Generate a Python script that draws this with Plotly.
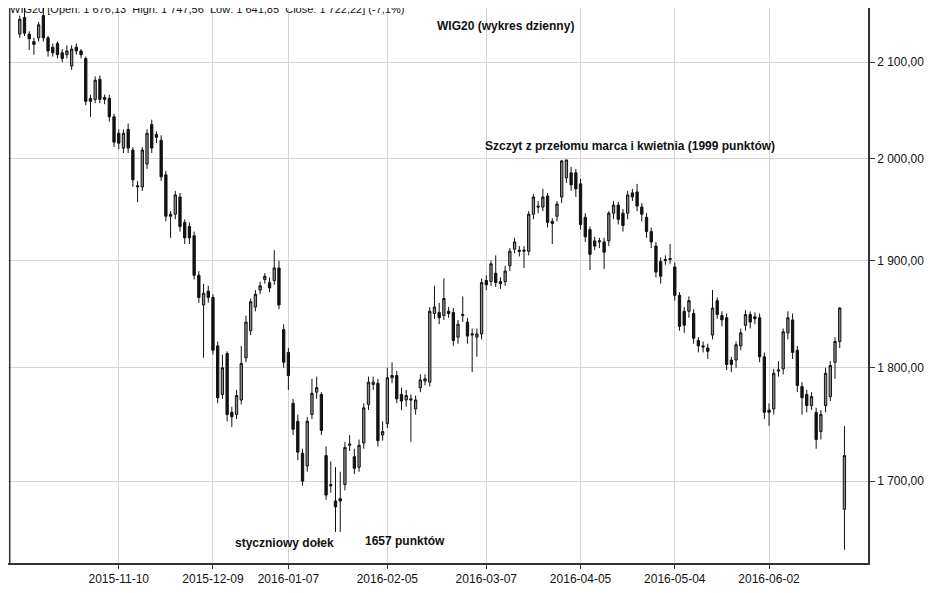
import pandas as pd
import plotly.graph_objects as go

# --- WIG20 daily candles, Oct 2015 - Jun 2016 ---
open_ = [2130, 2148, 2130, 2122, 2126, 2150, 2126, 2116, 2120, 2110, 2108, 2096, 2116, 2112, 2104, 2062, 2061, 2082, 2063, 2062,
         2043, 2026, 2011, 2030, 2009, 1972, 1972, 1995, 2035, 2025, 2019, 1984, 1945, 1945, 1962, 1937, 1933, 1924, 1886, 1858,
         1871, 1865, 1820, 1776, 1813, 1760, 1758, 1771, 1809, 1834, 1856, 1872, 1882, 1879, 1881, 1893, 1835, 1814, 1768, 1752,
         1724, 1713, 1758, 1778, 1776, 1722, 1697, 1683, 1685, 1697, 1731, 1721, 1712, 1733, 1767, 1785, 1786, 1740, 1750, 1791,
         1793, 1776, 1771, 1772, 1763, 1782, 1788, 1787, 1850, 1851, 1848, 1852, 1851, 1828, 1848, 1842, 1830, 1828, 1831, 1881,
         1880, 1888, 1880, 1880, 1895, 1911, 1910, 1909, 1909, 1945, 1953, 1952, 1963, 1938, 1943, 1962, 1981, 1986, 1986, 1975,
         1942, 1930, 1919, 1918, 1918, 1919, 1946, 1954, 1946, 1946, 1966, 1967, 1952, 1942, 1928, 1914, 1899, 1900, 1901, 1894,
         1867, 1852, 1852, 1850, 1825, 1820, 1818, 1830, 1862, 1848, 1846, 1807, 1807, 1820, 1839, 1849, 1847, 1846, 1810, 1762,
         1763, 1797, 1799, 1832, 1844, 1816, 1783, 1776, 1766, 1760, 1743, 1766, 1774, 1805, 1824, 1676]
high = [2150, 2158, 2133, 2126, 2143, 2160, 2128, 2120, 2122, 2114, 2118, 2118, 2120, 2114, 2106, 2066, 2085, 2086, 2066, 2066,
        2046, 2030, 2030, 2036, 2012, 1978, 2012, 2030, 2040, 2028, 2024, 1988, 1948, 1968, 1966, 1940, 1937, 1928, 1890, 1878,
        1876, 1868, 1824, 1812, 1815, 1765, 1780, 1820, 1848, 1864, 1872, 1880, 1888, 1884, 1910, 1900, 1840, 1818, 1772, 1758,
        1728, 1756, 1790, 1792, 1778, 1730, 1717, 1712, 1708, 1734, 1740, 1728, 1736, 1768, 1792, 1792, 1790, 1752, 1800, 1805,
        1797, 1782, 1780, 1776, 1775, 1794, 1794, 1856, 1876, 1860, 1883, 1856, 1855, 1844, 1866, 1846, 1836, 1836, 1883, 1886,
        1900, 1905, 1884, 1895, 1912, 1922, 1914, 1914, 1948, 1965, 1958, 1970, 1966, 1941, 1958, 1999, 1999, 1992, 1990, 1980,
        1946, 1933, 1923, 1922, 1922, 1948, 1958, 1957, 1950, 1968, 1970, 1975, 1956, 1946, 1932, 1918, 1903, 1905, 1916, 1898,
        1870, 1856, 1866, 1854, 1828, 1824, 1822, 1872, 1865, 1852, 1850, 1810, 1824, 1836, 1853, 1852, 1851, 1850, 1814, 1768,
        1799, 1806, 1836, 1852, 1850, 1820, 1787, 1780, 1778, 1764, 1762, 1800, 1806, 1828, 1856, 1748]
low = [2126, 2128, 2113, 2108, 2122, 2122, 2106, 2106, 2104, 2100, 2104, 2092, 2108, 2104, 2055, 2043, 2057, 2057, 2056, 2038,
       2012, 2010, 2006, 2006, 1972, 1957, 1968, 1990, 2006, 2016, 1978, 1938, 1922, 1940, 1928, 1916, 1916, 1882, 1860, 1809,
       1860, 1812, 1768, 1772, 1752, 1747, 1754, 1767, 1805, 1830, 1852, 1868, 1878, 1870, 1877, 1854, 1800, 1780, 1740, 1718,
       1696, 1708, 1754, 1772, 1740, 1684, 1690, 1657, 1657, 1692, 1726, 1706, 1708, 1728, 1762, 1780, 1730, 1735, 1746, 1786,
       1768, 1762, 1765, 1734, 1758, 1778, 1784, 1783, 1845, 1840, 1844, 1846, 1820, 1822, 1842, 1822, 1796, 1810, 1826, 1872,
       1876, 1875, 1873, 1876, 1890, 1907, 1904, 1893, 1905, 1940, 1946, 1948, 1932, 1916, 1938, 1956, 1976, 1968, 1962, 1930,
       1918, 1891, 1910, 1912, 1892, 1914, 1940, 1935, 1928, 1940, 1958, 1948, 1938, 1922, 1912, 1884, 1878, 1896, 1897, 1862,
       1834, 1832, 1846, 1822, 1814, 1814, 1808, 1826, 1845, 1838, 1798, 1796, 1800, 1816, 1834, 1836, 1840, 1805, 1754, 1748,
       1758, 1792, 1794, 1826, 1808, 1778, 1758, 1760, 1762, 1728, 1736, 1760, 1770, 1790, 1818, 1642]
close = [2146, 2131, 2125, 2119, 2140, 2126, 2112, 2110, 2108, 2104, 2112, 2114, 2112, 2108, 2059, 2059, 2081, 2061, 2061, 2043,
         2017, 2016, 2026, 2011, 1979, 1973, 2009, 2026, 2011, 2022, 1982, 1943, 1943, 1964, 1933, 1922, 1922, 1886, 1865, 1869,
         1865, 1816, 1773, 1800, 1758, 1756, 1775, 1804, 1842, 1861, 1868, 1876, 1885, 1874, 1893, 1858, 1805, 1793, 1745, 1725,
         1700, 1752, 1777, 1782, 1744, 1688, 1696, 1678, 1683, 1729, 1732, 1711, 1731, 1764, 1787, 1787, 1735, 1743, 1791, 1793,
         1772, 1770, 1775, 1771, 1771, 1789, 1790, 1852, 1856, 1846, 1864, 1850, 1825, 1840, 1849, 1829, 1831, 1831, 1879, 1877,
         1897, 1879, 1878, 1890, 1909, 1918, 1909, 1910, 1945, 1962, 1952, 1962, 1937, 1936, 1955, 1998, 1999, 1974, 1970, 1935,
         1923, 1906, 1914, 1919, 1908, 1946, 1954, 1940, 1934, 1964, 1962, 1953, 1945, 1928, 1918, 1889, 1885, 1901, 1902, 1867,
         1838, 1839, 1862, 1827, 1820, 1819, 1815, 1855, 1849, 1844, 1803, 1803, 1821, 1832, 1849, 1842, 1845, 1810, 1760, 1760,
         1795, 1798, 1833, 1846, 1814, 1784, 1773, 1766, 1774, 1736, 1758, 1795, 1802, 1824, 1855, 1722]

tick_dates = ['2015-11-10', '2015-12-09', '2016-01-07', '2016-02-05', '2016-03-07',
              '2016-04-05', '2016-05-04', '2016-06-02']
y_ticks = [1700, 1800, 1900, 2000, 2100]
y_labels = ['1 700,00', '1 800,00', '1 900,00', '2 000,00', '2 100,00']

# trading days (Warsaw exchange holidays removed), counted back from the last session
holidays = pd.to_datetime(['2015-11-11', '2015-12-24', '2015-12-25', '2015-12-31', '2016-01-01',
                           '2016-01-06', '2016-03-28', '2016-05-03', '2016-05-26'])
days = pd.bdate_range('2015-09-01', '2016-06-24')
days = days[~days.isin(holidays)][-len(close):]
dates = [d.strftime('%Y-%m-%d') for d in days]
shown_ticks = [d for d in tick_dates if d in dates]

fig = go.Figure(go.Candlestick(
    x=dates, open=open_, high=high, low=low, close=close,
    increasing=dict(fillcolor='#8c8c8c', line=dict(color='#111111', width=1)),
    decreasing=dict(fillcolor='#111111', line=dict(color='#111111', width=1)),
    whiskerwidth=0, showlegend=False, hoverinfo='x+y'))

# page body has an 8px margin, so the figure is a bit smaller than the window
fig.update_layout(
    width=940, height=585, template='plotly_white',
    paper_bgcolor='white', plot_bgcolor='white',
    margin=dict(l=0, r=80, t=0, b=30),
    font=dict(family='Arial, Liberation Sans, sans-serif', size=12, color='#111'),
    xaxis=dict(type='category', tickmode='array', tickvals=shown_ticks, ticktext=shown_ticks,
               showgrid=True, gridcolor='#d4d4d4', showline=True, linecolor='#333', linewidth=1.5,
               ticks='outside', ticklen=4, tickcolor='#333', rangeslider=dict(visible=False),
               range=[-2.5, len(dates) + 4], tickfont=dict(size=12)),
    yaxis=dict(type='log', side='right', range=[3.2125, 3.3341],
               tickvals=y_ticks, ticktext=y_labels, showgrid=True, gridcolor='#d4d4d4',
               showline=True, linecolor='#333', linewidth=1.5, ticks='outside', ticklen=5,
               tickcolor='#333', tickfont=dict(size=12)),
)

# left frame line
fig.add_shape(type='line', xref='paper', yref='paper', x0=0.002, x1=0.002, y0=0, y1=1,
              line=dict(color='#333', width=1.5))

fig.add_annotation(text='WIG20 [Open: 1 676,13  High: 1 747,56  Low: 1 641,85  Close: 1 722,22] (-7,1%)',
                   xref='paper', yref='paper', x=0.0, y=1.0, xanchor='left', yanchor='top', yshift=7,
                   showarrow=False, font=dict(size=11))
fig.add_annotation(text='<b>WIG20 (wykres dzienny)</b>', xref='paper', yref='paper', xanchor='center',
                   x=0.578, y=0.983, showarrow=False, font=dict(size=12))
fig.add_annotation(text='<b>Szczyt z przełomu marca i kwietnia (1999 punktów)</b>', xref='paper', yref='paper',
                   xanchor='center', x=0.723, y=0.767, showarrow=False, font=dict(size=12))
fig.add_annotation(text='<b>styczniowy dołek</b>', xref='paper', yref='paper', xanchor='center',
                   x=0.322, y=0.020, showarrow=False, font=dict(size=12))
fig.add_annotation(text='<b>1657 punktów</b>', xref='paper', yref='paper', xanchor='center',
                   x=0.462, y=0.023, showarrow=False, font=dict(size=12))

fig.write_html('out.html')
